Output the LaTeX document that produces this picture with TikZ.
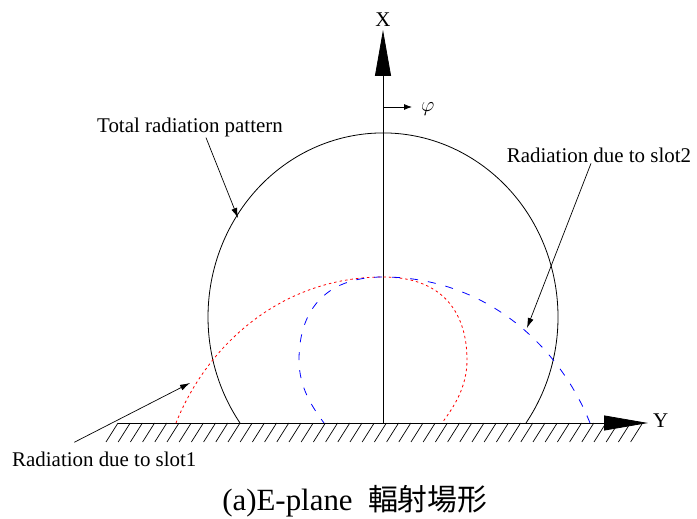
\documentclass[tikz,border=0pt]{standalone}
\usepackage{fontspec}
\setmainfont{Liberation Serif}
\newfontfamily\timesfont{Liberation Serif}
\newfontfamily\cjk{Noto Sans CJK TC}
\usepackage{xcolor}
\usepackage{tikz}
\usetikzlibrary{arrows.meta}
\definecolor{slotRed}{HTML}{FF0000}
\definecolor{slotBlue}{HTML}{0000FF}
\definecolor{lineGray}{HTML}{333333}

\begin{document}
\begin{tikzpicture}[
        x=1bp, y=1bp,
        axisLine/.style={draw=black, line width=0.8bp},
        hatchLine/.style={draw=black, line width=0.7bp},
        slotOne/.style={draw=slotRed, line width=0.8bp, dash pattern=on 2.5bp off 3bp},
        slotTwo/.style={draw=slotBlue, line width=0.8bp, dash pattern=on 8bp off 10bp},
        annot/.style={draw=black, line width=0.7bp, -{Latex[length=10bp, width=6bp]}},
        lbl/.style={inner sep=0pt, font=\timesfont\fontsize{21}{24}\selectfont}
    ]
        \useasboundingbox (-383,-96) rectangle (314,423);

        % Ground with hatching
        \foreach \i in {0,...,43}
            \draw[hatchLine] (-265+12.2*\i, 0) -- (-277+12.2*\i, -19);
        \coordinate (gl) at (-265, 0);
        \coordinate (yTip) at (265, 0);
        \draw[axisLine, -{Triangle[length=44bp, width=15bp]}] (gl) -- (yTip);
        \node[lbl, anchor=west] (yLab) at (270, 2) {Y};

        % Vertical axis
        \coordinate (o) at (0, 0);
        \coordinate (xTip) at (0, 393);
        \draw[axisLine, -{Triangle[length=46bp, width=16bp]}] (o) -- (xTip);
        \node[lbl, anchor=south] (xLab) at (0, 396) {X};
        \coordinate (phiFoot) at (0, 316);
        \coordinate (phiTip) at (29, 316);
        \draw[axisLine, -{Latex[length=8bp, width=6bp]}] (phiFoot) -- (phiTip);
        \node[lbl, anchor=west] (phiLab) at (38, 314) {$\varphi$};

        % Total radiation pattern
        \draw[black, line width=0.8bp] (143, 0) arc[start angle=-35.2, end angle=215.2, x radius=175, y radius=184];

        % Slot patterns
        \draw[slotOne] (-207,0) .. controls (-175,80) and (-100,146) .. (0,146)
            .. controls (60,146) and (84,110) .. (84,63)
            .. controls (84,35) and (70,15) .. (59,0);
        \draw[slotTwo] (207,0) .. controls (175,80) and (100,146) .. (0,146)
            .. controls (-60,146) and (-84,110) .. (-84,63)
            .. controls (-84,35) and (-70,15) .. (-59,0);

        % Labels
        \node[lbl, anchor=base] (totLab) at (-193, 290) {Total radiation pattern};
        \node[lbl, anchor=base] (s2Lab) at (216, 260) {Radiation due to slot2};
        \node[lbl, anchor=base west] (s1Lab) at (-371, -44) {Radiation due to slot1};
        \coordinate (totTip) at (-145, 205);
        \coordinate (s2Tip) at (144, 95);
        \coordinate (s1Tip) at (-193, 40);
        \draw[annot] ([xshift=16bp]totLab.south) -- (totTip);
        \draw[annot] ([xshift=-8bp]s2Lab.south) -- (s2Tip);
        \draw[annot] ([xshift=-30bp, yshift=10bp]s1Lab.north) -- (s1Tip);

        % Caption
        \node[font=\timesfont\fontsize{31}{34}\selectfont, anchor=base] (cap) at (-28, -88) {(a)E-plane\ \ {\cjk\fontsize{30}{34}\selectfont 輻射場形}};
    \end{tikzpicture}
\end{document}
